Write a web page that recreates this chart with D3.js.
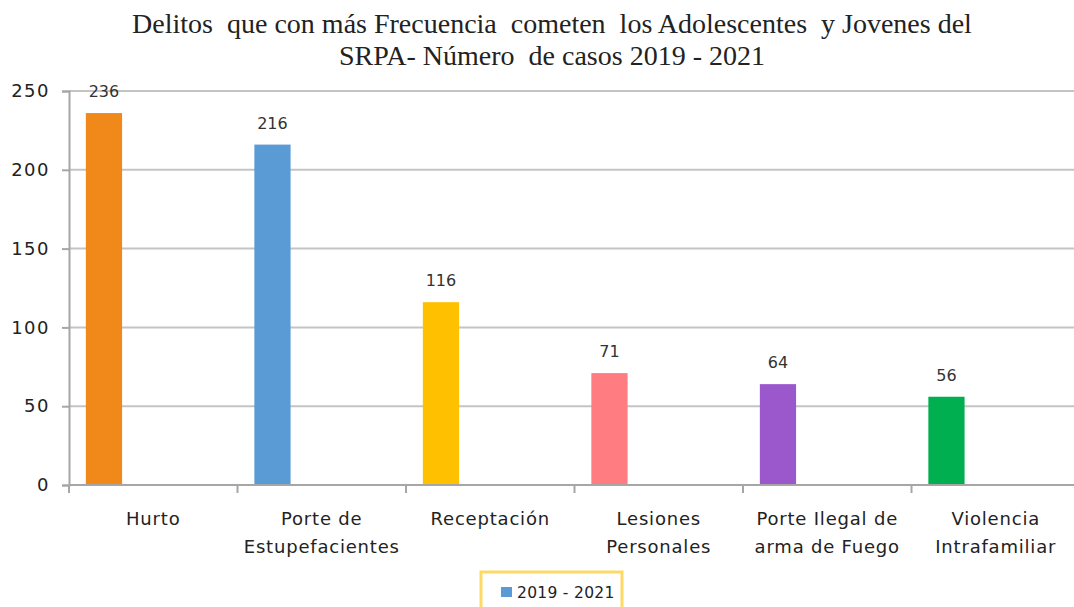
<!DOCTYPE html>
<html>
<head>
<meta charset="utf-8">
<script src="https://cdn.jsdelivr.net/npm/d3@7"></script>
<style>
  html, body { margin: 0; padding: 0; background: #fff; }
  svg { display: block; }
</style>
</head>
<body>
<svg id="chart" width="1074" height="607"></svg>
<script>
// Delitos más frecuentes (SRPA), número de casos 2019 - 2021
const categories = [
  ["Hurto"],
  ["Porte de", "Estupefacientes"],
  ["Receptación"],
  ["Lesiones", "Personales"],
  ["Porte Ilegal de", "arma de Fuego"],
  ["Violencia", "Intrafamiliar"]
];
const values = [236, 216, 116, 71, 64, 56];
const barColors = ["#F0891A", "#5B9BD5", "#FFC000", "#FF7C80", "#9B57CC", "#00B050"];
const yTicks = [0, 50, 100, 150, 200, 250];
const seriesName = "2019 - 2021";
const titleLines = [
  "Delitos  que con más Frecuencia  cometen  los Adolescentes  y Jovenes del",
  "SRPA- Número  de casos 2019 - 2021"
];

const svg = d3.select("#chart");
const plotLeft = 69, plotRight = 1080, plotTop = 91, plotBottom = 485;
const keys = categories.map(c => c.join(" "));

const x = d3.scaleBand().domain(keys).range([plotLeft, plotRight]).padding(0);
const y = d3.scaleLinear().domain([0, 250]).range([plotBottom, plotTop]);

const sans = "'DejaVu Sans', Verdana, sans-serif";

// Title
const title = svg.append("text")
  .attr("text-anchor", "middle")
  .attr("font-family", "'Liberation Serif', 'Times New Roman', serif")
  .attr("font-size", 28)
  .attr("fill", "#222")
  .style("white-space", "pre");
titleLines.forEach((t, i) => {
  title.append("tspan").attr("x", 552).attr("y", 33 + i * 32).text(t);
});

// Gridlines
svg.append("g")
  .selectAll("line")
  .data(yTicks.filter(v => v > 0))
  .join("line")
  .attr("x1", plotLeft).attr("x2", plotRight)
  .attr("y1", d => y(d)).attr("y2", d => y(d))
  .attr("stroke", "#C4C4C4").attr("stroke-width", 2);

// Y axis
const yAxis = svg.append("g")
  .attr("transform", `translate(${plotLeft},0)`)
  .call(d3.axisLeft(y).tickValues(yTicks).tickSize(7).tickPadding(12));
yAxis.select(".domain").attr("stroke", "#A6A6A6").attr("stroke-width", 2);
yAxis.selectAll(".tick line").attr("stroke", "#A6A6A6").attr("stroke-width", 2);
yAxis.selectAll(".tick text")
  .attr("font-family", sans)
  .attr("font-size", 18)
  .attr("letter-spacing", 1.5)
  .attr("fill", "#222");

// Bars
const barOffset = x.bandwidth() * 0.1;
const barWidth = x.bandwidth() * 0.215;
svg.append("g")
  .selectAll("rect")
  .data(values)
  .join("rect")
  .attr("x", (d, i) => x(keys[i]) + barOffset)
  .attr("y", d => y(d))
  .attr("width", barWidth)
  .attr("height", d => y(0) - y(d))
  .attr("fill", (d, i) => barColors[i]);

// Value labels
svg.append("g")
  .selectAll("text")
  .data(values)
  .join("text")
  .attr("x", (d, i) => x(keys[i]) + barOffset + barWidth / 2)
  .attr("y", d => y(d) - 16)
  .attr("text-anchor", "middle")
  .attr("font-family", sans)
  .attr("font-size", 16)
  .attr("fill", "#333")
  .text(d => d);

// X axis baseline and category ticks
const xAxis = svg.append("g")
  .attr("transform", `translate(0,${plotBottom})`);
xAxis.append("line")
  .attr("x1", plotLeft).attr("x2", plotRight)
  .attr("stroke", "#A6A6A6").attr("stroke-width", 2);
xAxis.selectAll("line.tk")
  .data(keys)
  .join("line")
  .attr("class", "tk")
  .attr("x1", d => x(d)).attr("x2", d => x(d))
  .attr("y1", 0).attr("y2", 8)
  .attr("stroke", "#A6A6A6").attr("stroke-width", 2);

// Category labels
const catLabels = svg.append("g")
  .selectAll("text")
  .data(categories)
  .join("text")
  .attr("text-anchor", "middle")
  .attr("font-family", sans)
  .attr("font-size", 18)
  .attr("letter-spacing", 0.8)
  .attr("fill", "#222");
catLabels.each(function(lines, i) {
  const cx = x(keys[i]) + x.bandwidth() / 2;
  d3.select(this).selectAll("tspan")
    .data(lines)
    .join("tspan")
    .attr("x", cx)
    .attr("y", (l, j) => 525 + j * 28)
    .text(l => l);
});

// Legend
const legend = svg.append("g").attr("transform", "translate(481,572)");
legend.append("rect")
  .attr("width", 141).attr("height", 44)
  .attr("fill", "#fff")
  .attr("stroke", "#FFD966").attr("stroke-width", 3);
legend.append("rect")
  .attr("x", 20).attr("y", 15).attr("width", 11).attr("height", 10)
  .attr("fill", barColors[1]);
legend.append("text")
  .attr("x", 36).attr("y", 26)
  .attr("font-family", sans)
  .attr("font-size", 15.5)
  .attr("letter-spacing", 0.3)
  .attr("fill", "#222")
  .text(seriesName);
</script>
</body>
</html>
